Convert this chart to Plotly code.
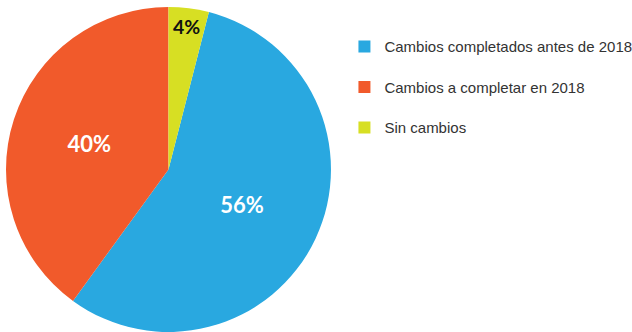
import plotly.graph_objects as go

categories = ["Cambios completados antes de 2018", "Cambios a completar en 2018", "Sin cambios"]
values = [56, 40, 4]
colors = ["#29A8E0", "#F15A2B", "#D7DF23"]
text_colors = ["#FFFFFF", "#FFFFFF", "#111111"]

fig = go.Figure()
fig.add_trace(go.Pie(
    labels=categories,
    values=values,
    sort=False,
    direction="clockwise",
    rotation=14.4,
    marker=dict(colors=colors, line=dict(width=0)),
    texttemplate="%{percent:.0%}",
    textposition="inside",
    insidetextorientation="horizontal",
    insidetextfont=dict(color=text_colors, size=22, family="Lato", weight="bold"),
    showlegend=False,
    hoverinfo="label+percent",
    domain=dict(x=[0.0095, 0.5237], y=[0.0, 0.979]),
))

for i, (name, col) in enumerate(zip(categories, colors)):
    fig.add_trace(go.Scatter(
        x=[None], y=[None], mode="markers", name=name,
        marker=dict(symbol="square", size=16, color=col),
        legendgroup=f"g{i}", showlegend=True,
    ))

fig.update_layout(
    width=632, height=332,
    margin=dict(l=0, r=0, t=0, b=0, autoexpand=False),
    paper_bgcolor="white", plot_bgcolor="white",
    xaxis=dict(visible=False), yaxis=dict(visible=False),
    legend=dict(
        x=0.545, y=0.909, xanchor="left", yanchor="top",
        font=dict(family="Liberation Sans", size=15, color="#333333"),
        tracegroupgap=18, itemsizing="constant",
        bgcolor="rgba(0,0,0,0)",
    ),
)

fig.write_html("out.html")
